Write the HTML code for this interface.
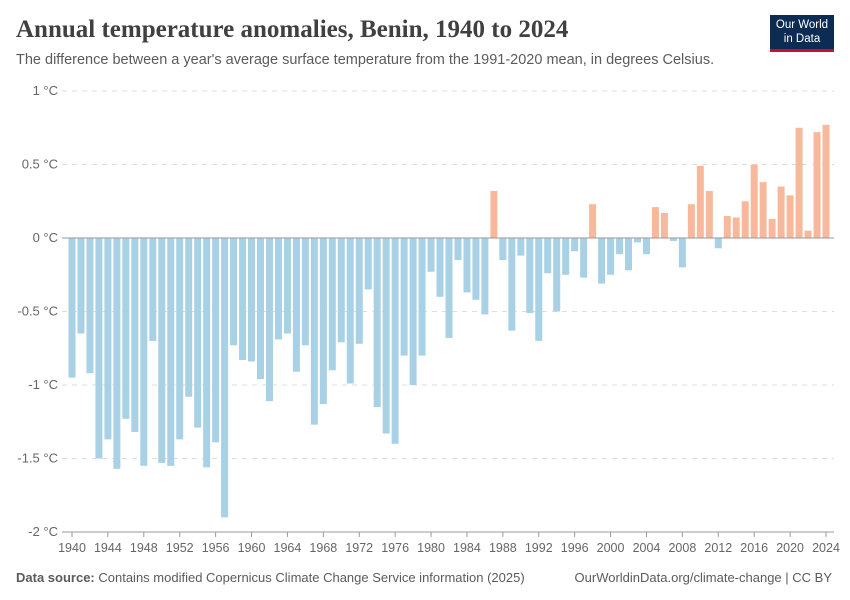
<!DOCTYPE html>
<html><head><meta charset="utf-8"><style>
body{margin:0;width:850px;height:600px;background:#fff;font-family:"Liberation Sans",sans-serif;overflow:hidden;position:relative}
.t{position:absolute;white-space:nowrap}
</style></head><body>
<div class="t" style="left:16px;top:16px;font-family:'Liberation Serif',serif;font-size:25px;font-weight:bold;color:#404040">Annual temperature anomalies, Benin, 1940 to 2024</div>
<div class="t" style="left:16px;top:52px;font-size:14.5px;color:#5b5b5b">The difference between a year's average surface temperature from the 1991-2020 mean, in degrees Celsius.</div>
<div class="t" style="left:770px;top:15px;width:64px;height:37px;background:#0d2c54;border-bottom:3px solid #c8102e;color:#fff;font-size:11.5px;line-height:14px;text-align:center;padding-top:3px;box-sizing:border-box">Our World<br>in Data</div>
<svg id="chart" width="850" height="600" style="position:absolute;left:0;top:0"></svg>
<div class="t" style="left:16px;top:570px;font-size:13px;color:#5b5b5b"><b>Data source:</b> Contains modified Copernicus Climate Change Service information (2025)</div>
<div class="t" style="right:18px;top:570px;font-size:13px;color:#5b5b5b">OurWorldinData.org/climate-change | CC BY</div>
<script>
const years=[];for(let y=1940;y<=2024;y++)years.push(y);
const anomalies=[-0.95,-0.65,-0.92,-1.50,-1.37,-1.57,-1.23,-1.32,-1.55,-0.70,-1.53,-1.55,-1.37,-1.08,-1.29,-1.56,-1.39,-1.90,-0.73,-0.83,-0.84,-0.96,-1.11,-0.69,-0.65,-0.91,-0.73,-1.27,-1.13,-0.90,-0.71,-0.99,-0.72,-0.35,-1.15,-1.33,-1.40,-0.80,-1.00,-0.80,-0.23,-0.40,-0.68,-0.15,-0.37,-0.42,-0.52,0.32,-0.15,-0.63,-0.12,-0.51,-0.70,-0.24,-0.50,-0.25,-0.09,-0.27,0.23,-0.31,-0.25,-0.11,-0.22,-0.03,-0.11,0.21,0.17,-0.02,-0.20,0.23,0.49,0.32,-0.07,0.15,0.14,0.25,0.50,0.38,0.13,0.35,0.29,0.75,0.05,0.72,0.77];
const yTicks=[1,0.5,0,-0.5,-1,-1.5,-2];
const yTickLabels=["1 °C","0.5 °C","0 °C","-0.5 °C","-1 °C","-1.5 °C","-2 °C"];
const xTickYears=[1940,1944,1948,1952,1956,1960,1964,1968,1972,1976,1980,1984,1988,1992,1996,2000,2004,2008,2012,2016,2020,2024];
const NS="http://www.w3.org/2000/svg",svg=document.getElementById('chart');
const yS=v=>238-v*147, xS=y=>72+(y-1940)*(754/84);
function mk(t,a){const e=document.createElementNS(NS,t);for(const k in a)e.setAttribute(k,a[k]);svg.appendChild(e);return e;}
yTicks.forEach((v,i)=>{
 if(v!==0){const l=mk('line',{x1:62,x2:834,y1:yS(v),y2:yS(v),stroke:'#ddd','stroke-dasharray':'5,5'});
 
 }
 const t=mk('text',{x:58,y:yS(v)+4,'text-anchor':'end','font-size':13,fill:'#666','font-family':'Liberation Sans'});
 t.textContent=yTickLabels[i];
 
 
});
years.forEach((y,i)=>{
 const v=anomalies[i],y0=yS(0),y1=yS(v);
 const r=mk('rect',{x:xS(y)-3.5,y:Math.min(y0,y1),width:7,height:Math.abs(y1-y0),fill:v>=0?'#f7b89b':'#a8d1e5'});
 
 
});
const ax=mk('line',{x1:62,x2:834,y1:238,y2:238,stroke:'#999'});


const bx=mk('line',{x1:62,x2:834,y1:532,y2:532,stroke:'#999'});


xTickYears.forEach(y=>{
 const tk=mk('line',{x1:xS(y),x2:xS(y),y1:532,y2:537,stroke:'#999'});
 
 
 const t=mk('text',{x:xS(y),y:552,'text-anchor':'middle','font-size':12.5,fill:'#666','font-family':'Liberation Sans'});
 t.textContent=y;
 
 
});
</script>
</body></html>
